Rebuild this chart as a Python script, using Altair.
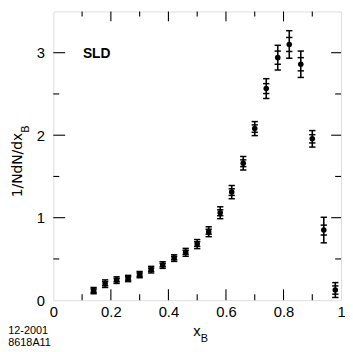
import altair as alt
import pandas as pd

# ---- data ----
x_b = [0.14, 0.18, 0.22, 0.26, 0.30, 0.34, 0.38, 0.42, 0.46, 0.50, 0.54,
       0.58, 0.62, 0.66, 0.70, 0.74, 0.78, 0.82, 0.86, 0.90, 0.94, 0.98]
dist = [0.116, 0.20, 0.243, 0.263, 0.31, 0.37, 0.426, 0.51, 0.58, 0.68, 0.83,
        1.06, 1.31, 1.66, 2.08, 2.565, 2.94, 3.10, 2.86, 1.956, 0.85, 0.123]
err_tot = [0.038, 0.046, 0.040, 0.038, 0.038, 0.040, 0.040, 0.040, 0.048, 0.055, 0.060,
           0.072, 0.080, 0.082, 0.085, 0.120, 0.150, 0.167, 0.160, 0.100, 0.155, 0.090]
err_stat = [0.020, 0.025, 0.020, 0.020, 0.020, 0.020, 0.020, 0.020, 0.025, 0.028, 0.030,
            0.036, 0.040, 0.041, 0.045, 0.060, 0.080, 0.085, 0.080, 0.050, 0.060, 0.050]

x_labels = [0, 0.2, 0.4, 0.6, 0.8, 1]
y_labels = [0, 1, 2, 3]
x_major = [0.2, 0.4, 0.6, 0.8]
x_minor = [0.1, 0.3, 0.5, 0.7, 0.9]
y_major = [1, 2, 3]
y_minor = [0.5, 1.5, 2.5]

W, H = 292, 293
FONT = "Liberation Sans"

df = pd.DataFrame({"xb": x_b, "y": dist, "et": err_tot, "es": err_stat})
df["lo_t"] = df.y - df.et
df["hi_t"] = df.y + df.et
df["lo_s"] = df.y - df.es
df["hi_s"] = df.y + df.es

xscale = alt.Scale(domain=[0, 1], nice=False, zero=False)
yscale = alt.Scale(domain=[0, 3.5], nice=False, zero=False)
xaxis = alt.Axis(values=x_labels, format="~g", ticks=False, domain=False, grid=False,
                 labelPadding=5, labelFont=FONT, labelFontSize=15, labelColor="black",
                 title=None, labelFlush=False)
yaxis = alt.Axis(values=y_labels, format="d", ticks=False, domain=False, grid=False,
                 labelPadding=9, labelFont=FONT, labelFontSize=15, labelColor="black",
                 title=None)


def X(f):
    return alt.X(f"{f}:Q", scale=xscale, axis=xaxis)


def Y(f):
    return alt.Y(f"{f}:Q", scale=yscale, axis=yaxis)


base = alt.Chart(df)
bars = base.mark_rule(color="black", strokeWidth=1.6).encode(x=X("xb"), y=Y("lo_t"), y2="hi_t")
caps = []
for f in ["lo_t", "hi_t", "lo_s", "hi_s"]:
    caps.append(base.mark_rule(color="black", strokeWidth=1.5, xOffset=-3.2, x2Offset=3.2)
                .encode(x=X("xb"), x2="xb", y=Y(f)))
pts = base.mark_point(filled=True, shape="circle", size=32, color="black", opacity=1).encode(
    x=X("xb"), y=Y("y"))


# inward ticks on all four sides
def tick_layer(vals, axis, side, length):
    d = alt.Chart(pd.DataFrame({"t": vals}))
    m = d.mark_rule(color="black", strokeWidth=1.1)
    if axis == "x":
        if side == "bottom":
            return m.encode(x=X("t"), y=alt.value(H), y2=alt.value(H - length))
        return m.encode(x=X("t"), y=alt.value(0), y2=alt.value(length))
    if side == "left":
        return m.encode(y=Y("t"), x=alt.value(0), x2=alt.value(length))
    return m.encode(y=Y("t"), x=alt.value(W), x2=alt.value(W - length))


ticks = [
    tick_layer(x_major, "x", "bottom", 11), tick_layer(x_minor, "x", "bottom", 6),
    tick_layer(x_major, "x", "top", 10), tick_layer(x_minor, "x", "top", 5),
    tick_layer(y_major, "y", "left", 12), tick_layer(y_minor, "y", "left", 6),
    tick_layer(y_major, "y", "right", 10), tick_layer(y_minor, "y", "right", 6),
]


def label(text, x, y, size, angle=0, weight="normal", align="left", baseline="alphabetic",
          font=FONT):
    return alt.Chart(pd.DataFrame({"t": [text]})).mark_text(
        font=font, fontSize=size, fontWeight=weight, angle=angle, align=align,
        baseline=baseline, color="black").encode(
        text="t:N", x=alt.value(x), y=alt.value(y))


texts = [
    label("SLD", 30, 47.7, 14, weight="bold"),
    label("1/NdN/dx", -32, 188.5, 14, angle=270, font="DejaVu Sans"),
    label("B", -24.7, 123, 11, angle=270),
    label("x", 142, 329, 15),
    label("B", 149.5, 335, 11),
    label("12-2001", -45.7, 327.7, 11),
    label("8618A11", -45.7, 339, 11),
]

chart = alt.layer(*ticks, bars, *caps, pts, *texts).properties(
    width=W, height=H,
    autosize=alt.AutoSizeParams(type="none"),
    padding={"left": 46, "top": 1, "right": 4, "bottom": 45},
).configure_view(stroke="black", strokeWidth=1.6).configure(background="white")

chart.save("out.html", embed_options={"renderer": "svg", "actions": False})
